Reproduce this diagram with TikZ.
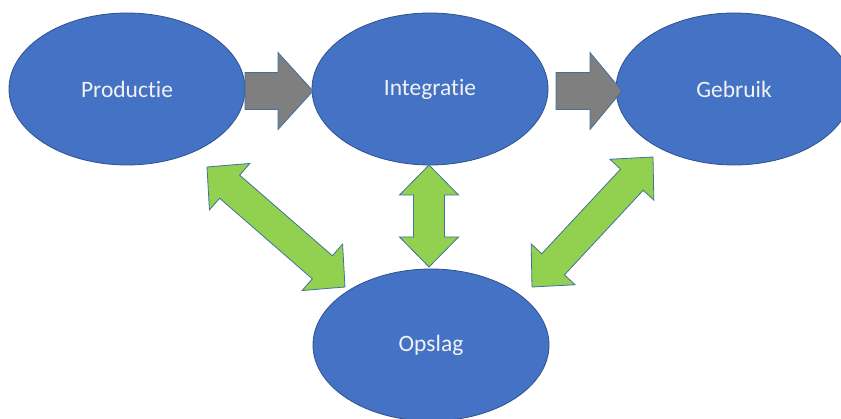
\documentclass[tikz,border=0pt]{standalone}
\usepackage{fontspec}
\setmainfont{Carlito}[Ligatures=NoCommon]
\usetikzlibrary{shapes.geometric,calc}
\definecolor{ellfill}{HTML}{4472C4}
\definecolor{elldraw}{HTML}{2F528F}
\definecolor{greenfill}{HTML}{92D050}
\definecolor{arrowdraw}{HTML}{41719C}
\definecolor{grayfill}{HTML}{7F7F7F}
\tikzset{
  stage/.style={ellipse, fill=ellfill, draw=elldraw, line width=0.8pt,
    minimum width=236pt, minimum height=152pt, inner sep=0pt,
    text=white!95!black, font=\fontsize{23.5}{28}\selectfont},
  flowarrow/.style={fill=grayfill, draw=arrowdraw, line width=0.8pt, line join=miter},
  linkarrow/.style={fill=greenfill, draw=arrowdraw, line width=0.8pt, line join=miter},
}
% #1 start, #2 end, #3 head length, #4 head half width, #5 shaft half width, #6 style
\newcommand\blocksingle[6]{%
  \draw[#6] ($(#1)!#5!90:(#2)$) -- ($(#2)!#3!(#1)!#5!-90:(#1)$)
    -- ($(#2)!#3!(#1)!#4!-90:(#1)$) -- (#2)
    -- ($(#2)!#3!(#1)!#4!90:(#1)$) -- ($(#2)!#3!(#1)!#5!90:(#1)$)
    -- ($(#1)!#5!-90:(#2)$) -- cycle;}
\newcommand\blockdouble[6]{%
  \draw[#6] (#1) -- ($(#1)!#3!(#2)!#4!90:(#2)$) -- ($(#1)!#3!(#2)!#5!90:(#2)$)
    -- ($(#2)!#3!(#1)!#5!-90:(#1)$) -- ($(#2)!#3!(#1)!#4!-90:(#1)$) -- (#2)
    -- ($(#2)!#3!(#1)!#4!90:(#1)$) -- ($(#2)!#3!(#1)!#5!90:(#1)$)
    -- ($(#1)!#3!(#2)!#5!-90:(#2)$) -- ($(#1)!#3!(#2)!#4!-90:(#2)$) -- cycle;}
\begin{document}
\begin{tikzpicture}[x=1pt,y=-1pt]
\useasboundingbox (0,0) rectangle (841,419);
\clip (0,0) rectangle (841,419);
\fill[white] (0,0) rectangle (841,419);

\node[stage] (prod) at (127,89) {Productie};
\node[stage] (integ) at (430,89) {Integratie};
\node[stage] (gebr) at (734,89) {Gebruik};
\node[stage] (opsl) at (431,345) {Opslag};

% gray flow arrows
\coordinate (f1s) at (245,91);
\coordinate (f1e) at (313,91);
\coordinate (f2s) at (556,91);
\coordinate (f2e) at (622,91);
\blocksingle{f1s}{f1e}{35pt}{38.5pt}{18.5pt}{flowarrow}
\blocksingle{f2s}{f2e}{32pt}{38.5pt}{18.5pt}{flowarrow}

% green link arrows
\coordinate (l1s) at (207,167);
\coordinate (l1e) at (345,287);
\coordinate (l2s) at (429,165);
\coordinate (l2e) at (429,267);
\coordinate (l3s) at (653,157);
\coordinate (l3e) at (532,287);
\blockdouble{l1s}{l1e}{30pt}{30.8pt}{15.3pt}{linkarrow}
\blockdouble{l2s}{l2e}{30pt}{29.5pt}{15.5pt}{linkarrow}
\blockdouble{l3s}{l3e}{31pt}{30pt}{15.5pt}{linkarrow}
\end{tikzpicture}
\end{document}
